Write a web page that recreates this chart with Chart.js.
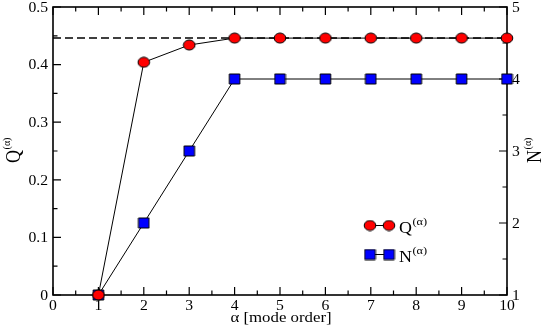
<!DOCTYPE html>
<html><head><meta charset="utf-8">
<script src="https://cdn.jsdelivr.net/npm/chart.js@4/dist/chart.umd.min.js"></script>
<style>html,body{margin:0;padding:0;background:#fff;}</style>
</head><body>
<canvas id="c" width="545" height="327"></canvas>
<script>
// ---- data ----
const modeOrder = [1, 2, 3, 4, 5, 6, 7, 8, 9, 10];
const qValues = [0, 0.404, 0.434, 0.446, 0.446, 0.446, 0.446, 0.446, 0.446, 0.446];
const nValues = [1, 2, 3, 4, 4, 4, 4, 4, 4, 4];
const qLimit = 0.446;
const qLimitSpan = [0, 10];
const xTicks = [0, 1, 2, 3, 4, 5, 6, 7, 8, 9, 10];
const qTicks = [0, 0.1, 0.2, 0.3, 0.4, 0.5];
const nTicks = [1, 2, 3, 4, 5];
const xTitle = 'α [mode order]';
const qTitle = ['Q', '(α)'];
const nTitle = ['N', '(α)'];

const SERIF = "'Liberation Serif', 'Times New Roman', serif";
const SX = 1.12; // horizontal stretch of glyphs seen in the reference
Chart.defaults.font.family = SERIF;
Chart.defaults.color = '#000';

function setTicks(arr) {
  return function (scale) { scale.ticks = arr.map(v => ({ value: v })); };
}

function makeMarker(kind, fill) {
  const c = document.createElement('canvas');
  const w = kind === 'circle' ? 14 : 13, h = 12;
  c.width = w; c.height = h;
  const g = c.getContext('2d');
  g.fillStyle = fill; g.strokeStyle = '#000'; g.lineWidth = 1;
  g.beginPath();
  if (kind === 'circle') g.ellipse(w / 2, h / 2, 5.8, 5.0, 0, 0, Math.PI * 2);
  else g.rect(w / 2 - 5.3, h / 2 - 5.0, 10.6, 10.0);
  g.fill(); g.stroke();
  return c;
}
const redCircle = makeMarker('circle', '#ff0000');
const blueSquare = makeMarker('rect', '#0000ff');

function text(ctx, str, x, y, size, align) {
  ctx.save();
  ctx.font = size + 'px ' + SERIF;
  const w = ctx.measureText(str).width * SX;
  let sx = x;
  if (align === 'center') sx = x - w / 2;
  else if (align === 'right') sx = x - w;
  ctx.translate(sx, y);
  ctx.scale(SX, 1);
  ctx.textAlign = 'left';
  ctx.textBaseline = 'alphabetic';
  ctx.fillText(str, 0, 0);
  ctx.restore();
}

// local coordinates, no stretch (caller applies transforms)
function supText(ctx, parts, x, y, big, small, raise, align) {
  ctx.font = big + 'px ' + SERIF;
  const w1 = ctx.measureText(parts[0]).width;
  ctx.font = small + 'px ' + SERIF;
  const w2 = ctx.measureText(parts[1]).width;
  let sx = x;
  if (align === 'center') sx = x - (w1 + w2 + 1) / 2;
  ctx.textAlign = 'left';
  ctx.textBaseline = 'alphabetic';
  ctx.font = big + 'px ' + SERIF;
  ctx.fillText(parts[0], sx, y);
  ctx.font = small + 'px ' + SERIF;
  ctx.fillText(parts[1], sx + w1 + 0.5, y - raise);
}

const framePlugin = {
  id: 'frame',
  beforeDatasetsDraw(chart) {
    const { ctx, chartArea: a, scales } = chart;
    const x = scales.x, y = scales.y, y2 = scales.y2;
    ctx.save();
    ctx.strokeStyle = '#000';
    ctx.lineWidth = 1.6;
    ctx.strokeRect(a.left, a.top, a.right - a.left, a.bottom - a.top);
    ctx.lineWidth = 1.2;
    ctx.beginPath();
    const MAJ = 8, MIN = 4.5;
    for (let i = 0; i < xTicks.length; i++) {
      const p = x.getPixelForValue(xTicks[i]);
      ctx.moveTo(p, a.bottom); ctx.lineTo(p, a.bottom - MAJ);
      ctx.moveTo(p, a.top); ctx.lineTo(p, a.top + MAJ);
      if (i < xTicks.length - 1) {
        const m = x.getPixelForValue((xTicks[i] + xTicks[i + 1]) / 2);
        ctx.moveTo(m, a.bottom); ctx.lineTo(m, a.bottom - MIN);
        ctx.moveTo(m, a.top); ctx.lineTo(m, a.top + MIN);
      }
    }
    for (let i = 0; i < qTicks.length; i++) {
      const p = y.getPixelForValue(qTicks[i]);
      ctx.moveTo(a.left, p); ctx.lineTo(a.left + MAJ, p);
      if (i < qTicks.length - 1) {
        const m = y.getPixelForValue((qTicks[i] + qTicks[i + 1]) / 2);
        ctx.moveTo(a.left, m); ctx.lineTo(a.left + MIN, m);
      }
    }
    for (let i = 0; i < nTicks.length; i++) {
      const p = y2.getPixelForValue(nTicks[i]);
      ctx.moveTo(a.right, p); ctx.lineTo(a.right - MAJ, p);
      if (i < nTicks.length - 1) {
        const m = y2.getPixelForValue((nTicks[i] + nTicks[i + 1]) / 2);
        ctx.moveTo(a.right, m); ctx.lineTo(a.right - MIN, m);
      }
    }
    ctx.stroke();
    ctx.restore();
  },
  afterDraw(chart) {
    const { ctx, chartArea: a, scales } = chart;
    ctx.save();
    ctx.fillStyle = '#000';
    // tick labels
    xTicks.forEach(v => text(ctx, String(v), scales.x.getPixelForValue(v), 309.5, 14, 'center'));
    qTicks.forEach(v => text(ctx, String(v), 48, scales.y.getPixelForValue(v) + 4.8, 14, 'right'));
    nTicks.forEach(v => text(ctx, String(v), 512, scales.y2.getPixelForValue(v) + 4.8, 14, 'left'));
    // x title
    text(ctx, xTitle, 281, 322, 15, 'center');
    // left title
    ctx.save();
    ctx.translate(20, 150);
    ctx.scale(SX, 1);
    ctx.rotate(-Math.PI / 2);
    supText(ctx, qTitle, 0, 0, 18, 10, 9, 'center');
    ctx.restore();
    // right title
    ctx.save();
    ctx.translate(541, 150);
    ctx.scale(SX, 1);
    ctx.rotate(-Math.PI / 2);
    supText(ctx, nTitle, 0, 0, 18, 10, 9, 'center');
    ctx.restore();
    // legend
    const rows = [
      { y: 225.5, img: redCircle, text: qTitle },
      { y: 254.5, img: blueSquare, text: nTitle }
    ];
    rows.forEach(r => {
      ctx.strokeStyle = '#000';
      ctx.lineWidth = 1;
      ctx.beginPath(); ctx.moveTo(370, r.y); ctx.lineTo(389, r.y); ctx.stroke();
      [370, 389].forEach(cx => ctx.drawImage(r.img, cx - r.img.width / 2, r.y - r.img.height / 2));
      ctx.fillStyle = '#000';
      ctx.save();
      ctx.translate(399, r.y + 7.5);
      ctx.scale(SX, 1);
      supText(ctx, r.text, 0, 0, 16, 11, 8, 'left');
      ctx.restore();
    });
    ctx.restore();
  }
};

new Chart(document.getElementById('c'), {
  type: 'line',
  data: {
    datasets: [
      {
        label: 'Q', yAxisID: 'y',
        data: modeOrder.map((a, i) => ({ x: a, y: qValues[i] })),
        borderColor: '#000', borderWidth: 1, tension: 0, fill: false,
        pointStyle: redCircle, pointRadius: 6, clip: false
      },
      {
        label: 'N', yAxisID: 'y2',
        data: modeOrder.map((a, i) => ({ x: a, y: nValues[i] })),
        borderColor: '#000', borderWidth: 1, tension: 0, fill: false,
        pointStyle: blueSquare, pointRadius: 6, clip: false
      },
      {
        label: 'limit', yAxisID: 'y',
        data: qLimitSpan.map(v => ({ x: v, y: qLimit })),
        borderColor: '#000', borderWidth: 1.5, borderDash: [8, 4],
        pointRadius: 0, fill: false, clip: false
      }
    ]
  },
  options: {
    responsive: false, animation: false, events: [],
    layout: { padding: { top: 7, left: 0, right: 0, bottom: 0 } },
    plugins: { legend: { display: false }, tooltip: { enabled: false } },
    scales: {
      x: {
        type: 'linear', position: 'bottom', min: 0, max: 10,
        afterBuildTicks: setTicks(xTicks),
        afterFit(s) { s.height = 32; },
        grid: { display: false }, border: { display: false },
        ticks: { display: false }
      },
      y: {
        type: 'linear', position: 'left', min: 0, max: 0.5,
        afterBuildTicks: setTicks(qTicks),
        afterFit(s) { s.width = 53; },
        grid: { display: false }, border: { display: false },
        ticks: { display: false }
      },
      y2: {
        type: 'linear', position: 'right', min: 1, max: 5,
        afterBuildTicks: setTicks(nTicks),
        afterFit(s) { s.width = 38; },
        grid: { display: false }, border: { display: false },
        ticks: { display: false }
      }
    }
  },
  plugins: [framePlugin]
});
</script>
</body></html>
